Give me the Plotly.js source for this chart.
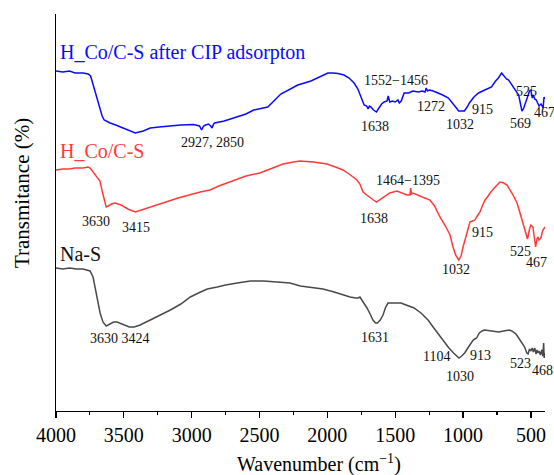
<!DOCTYPE html>
<html><head><meta charset="utf-8">
<script src="https://cdn.plot.ly/plotly-3.0.1.min.js"></script>
<style>html,body{margin:0;padding:0;background:#fff}</style>
</head><body><div id="chart" style="width:554px;height:475px"></div>
<script>
// ---- Data (wavenumber in cm^-1, transmittance in arbitrary offset units) ----
const blueName = "H_Co/C-S after CIP adsorpton";
const blueWn = [4000,3950,3900,3860,3800,3763,3745,3730,3712,3690,3675,3660,3645,3620,3601,3560,3527,3470,3416,3357,3305,3240,3179,3080,2987,2942,2927,2912,2898,2876,2860,2850,2838,2831,2760,2691,2600,2543,2439,2343,2218,2121,2050,1996,1960,1922,1877,1840,1803,1775,1752,1729,1710,1700,1690,1678,1660,1638,1620,1600,1582,1560,1552,1540,1520,1500,1480,1470,1456,1440,1434,1400,1370,1330,1300,1280,1272,1262,1249,1220,1182,1150,1108,1075,1049,1032,1010,990,970,953,920,886,840,790,760,740,716,700,680,664,640,610,590,575,566,555,540,525,510,500,490,482,472,460,450,440,425,410,403,398];
const blueT = [340,339,340,338,338,337,335,328,319,309,301,295,291,289,288,286,284,281,278,280,283,284,285,286,286.5,285,281,285,286,287,285,283,287,288,290,293,297,301,304,317,326,330,335,338,338,337.5,336,333,328,322,314,306,305,302,305,304,301,299,303,307,309,310,315,309,310,309,311,308,310,316,318,318,320,319,320,319,323,320,321,320,318,316,313,308,303,300,300,300,304,308,314,318,321,324,330,333,338,335,332,331,326,320,316,306,300,302,307,314,320,321,313,316,312,311,308,305,307,303,314,312];

const redName = "H_Co/C-S";
const redWn = [4000,3950,3900,3860,3800,3763,3749,3720,3700,3676,3660,3645,3630,3615,3590,3565,3520,3470,3415,3370,3305,3200,3100,2937,2865,2800,2740,2694,2600,2497,2400,2327,2250,2202,2100,2003,1940,1885,1830,1782,1760,1737,1710,1686,1660,1638,1615,1590,1540,1487,1470,1450,1413,1391,1386,1380,1369,1300,1244,1210,1170,1130,1096,1074,1055,1032,1015,1000,980,960,949,930,912,895,875,855,838,820,801,770,750,728,700,676,640,602,580,558,540,525,510,500,485,475,465,455,448,440,426,418,411,396];
const redT = [241,242,242,243,243,244,243,238,234,230,220,211,204,205,207,208,206,202,199,201,204,209,213,219,221,225,228,231,235,238,243,247,249,250,249,247,244,241,236,231,227,219,216,214,211,209,211,214,218,220,219,218,216,216,223,217,218,214,211,205,194,185,176,164,156,151,155,164,175,186,189,190,191,195,199,206,211,214,218,223,226,229,228,226,218,208,198,188,180,172,182,186,184,175,164,172,174,171,173,178,181,184];

const grayName = "Na-S";
const grayWn = [4000,3950,3900,3850,3800,3749,3727,3710,3698,3675,3654,3630,3600,3575,3550,3500,3460,3424,3380,3305,3230,3157,3080,3010,2950,2885,2811,2750,2664,2568,2470,2369,2275,2199,2100,2032,1950,1880,1833,1790,1774,1760,1740,1708,1685,1664,1645,1631,1610,1590,1570,1553,1520,1490,1457,1420,1361,1310,1258,1210,1162,1130,1104,1070,1050,1030,1010,988,960,937,925,913,900,880,860,840,800,770,737,700,660,641,610,590,570,546,530,521,510,500,490,482,472,462,455,448,440,430,420,412,406,402,398];
const grayT = [143,142,143,142,142,140,134,124,114,98,89,85,87,89,89,86,84,84,86,91,96,101,107,114,118,122,124,126,128,130,130,129,128,125,123,122,119,116,114,113,113,114,110,103,97,91,88,88,91,96,104,108,108,108,108,106,103,98,91,82,73,67,63,58,55,53,55,58,64,69,71,72,73,78,80,81,80,80,79,80,81,80,77,73,69,64,58,57,62,60,63,59,63,57,61,58,60,56,61,55,68,53,58];

// Peak labels: text and wavenumber / transmittance anchor
const blueLabels = ["2927, 2850","1552\u22121456","1638","1272","1032","915","569","525","467"];
const blueLabelWn = [2850,1494,1649,1236,1023,853,580,529,403];
const blueLabelT = [269,331,285,305,287,302,288,320,299];
const redLabels = ["3630","3415","1638","1464\u22121395","915","1032","525","467"];
const redLabelWn = [3705,3410,1656,1406,860,1052,580,455];
const redLabelT = [190,184,193,231,179,142,160,149];
const grayLabels = ["3630 3424","1631","1104","913","1030","523","468"];
const grayLabelWn = [3528,1649,1199,875,1023,580,418];
const grayLabelT = [73,74,55,56,35,48,41];

const xTicks = [4000,3500,3000,2500,2000,1500,1000,500];

// ---- Styling ----
const FONT = "Liberation Serif, Times New Roman, serif";
const BLUE = "#0a0aff", RED = "#ff3a3a", GRAY = "#4a4a4a";

function trace(x, y, name, color) {
  return {x: x, y: y, name: name, type: "scatter", mode: "lines",
          line: {color: color, width: 1.5}, hoverinfo: "x+y"};
}
const data = [trace(blueWn, blueT, blueName, BLUE),
              trace(redWn, redT, redName, RED),
              trace(grayWn, grayT, grayName, GRAY)];

const annotations = [];
function addLabels(texts, xs, ys) {
  texts.forEach((t, i) => annotations.push({
    x: xs[i], y: ys[i], xref: "x", yref: "y", text: t, showarrow: false,
    xanchor: "center", yanchor: "middle", font: {family: FONT, size: 14, color: "#111"}
  }));
}
addLabels(blueLabels, blueLabelWn, blueLabelT);
addLabels(redLabels, redLabelWn, redLabelT);
addLabels(grayLabels, grayLabelWn, grayLabelT);

// series names
[[blueName, 359, BLUE], [redName, 260, RED], [grayName, 157, "#111"]].forEach(s => annotations.push({
  x: 3985, y: s[1], xref: "x", yref: "y", text: s[0], showarrow: false,
  xanchor: "left", yanchor: "middle", font: {family: FONT, size: 20, color: s[2]}
}));

// axis titles
annotations.push({x: 0.538, y: -0.131, xref: "paper", yref: "paper", showarrow: false,
  text: "Wavenumber (cm<sup>\u22121</sup>)", xanchor: "center", yanchor: "middle",
  font: {family: FONT, size: 20, color: "#000"}});
annotations.push({x: -0.0695, y: 0.549, xref: "paper", yref: "paper", showarrow: false,
  text: "Transmitance (%)", textangle: -90, xanchor: "center", yanchor: "middle",
  font: {family: FONT, size: 21, color: "#000"}});

const layout = {
  width: 554, height: 475,
  margin: {l: 56, r: 9, t: 14, b: 64, pad: 0},
  paper_bgcolor: "#fff", plot_bgcolor: "#fff",
  showlegend: false,
  font: {family: FONT, color: "#000"},
  xaxis: {
    range: [4000, 396], autorange: false,
    tickvals: xTicks, ticktext: xTicks.map(String),
    ticks: "outside", ticklen: 6, tickwidth: 1.3, tickcolor: "#000",
    minor: {ticks: "outside", ticklen: 3, tickwidth: 1.1, tickcolor: "#000", dtick: 250, tick0: 0, showgrid: false},
    showline: true, linecolor: "#000", linewidth: 1.3,
    showgrid: false, zeroline: false,
    tickfont: {family: FONT, size: 20, color: "#000"}
  },
  yaxis: {
    range: [0, 397], autorange: false,
    showticklabels: false, ticks: "",
    showline: true, linecolor: "#000", linewidth: 1.3,
    showgrid: false, zeroline: false
  },
  annotations: annotations
};

Plotly.newPlot("chart", data, layout, {displayModeBar: false, staticPlot: true});
</script>
</body></html>
